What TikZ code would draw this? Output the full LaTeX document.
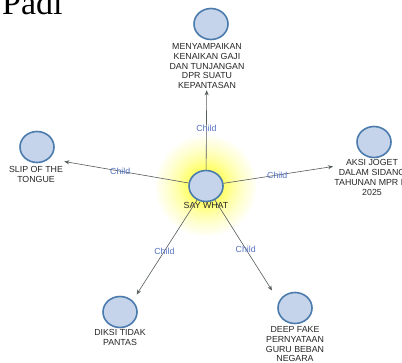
\documentclass[tikz,border=0pt]{standalone}
\usepackage{fontspec}
\setmainfont{Liberation Serif}
\newfontfamily\labfont{Liberation Sans}
\usetikzlibrary{shapes.geometric,fit,arrows.meta}
\definecolor{nodefill}{RGB}{197,212,234}
\definecolor{nodeedge}{RGB}{74,123,172}
\definecolor{childblue}{RGB}{85,115,195}
\definecolor{edgegray}{RGB}{85,92,92}
\definecolor{glowcol}{RGB}{255,255,40}
\begin{document}
\begin{tikzpicture}[x=1pt,y=-1pt,
  bubble/.style={ellipse, draw=nodeedge, fill=nodefill, line width=1.6pt, minimum width=34pt, minimum height=31pt, inner sep=0pt},
  caption/.style={font=\labfont\fontsize{8.8}{9.9}\selectfont, align=center, inner sep=0pt, text=black!85, anchor=north},
  grp/.style={inner sep=1pt},
  link/.style={draw=edgegray, line width=0.6pt, -{Stealth[length=5pt,width=4pt]}},
  childlbl/.style={font=\labfont\fontsize{8.8}{9}\selectfont, text=childblue, inner sep=0pt},
  glowring/.style={fill=glowcol, opacity=0.05, draw=none}]
\useasboundingbox (0,0) rectangle (402,362);
\fill[white] (0,0) rectangle (402,362);
\clip (0,0) rectangle (402,362);
% cropped title
\node[font=\fontsize{34}{34}\selectfont, anchor=base west, inner sep=0pt] (title) at (2,14) {Padi};
% glow
\foreach \r in {50,47,44,41,38,36,34,32,30,28,27,26,25,24,23,22,21,20,19,18}
  \fill[glowring] (206,186) circle (\r);
% center
\node[bubble] (c) at (206,186) {};
\node[caption] (ct) at (206,202) {SAY WHAT};
% top
\node[bubble] (tc) at (211,24) {};
\node[caption] (tt) at (207,43) {MENYAMPAIKAN\\KENAIKAN GAJI\\DAN TUNJANGAN\\DPR SUATU\\KEPANTASAN};
\node[grp, fit=(tc)(tt)] (top) {};
% left
\node[bubble] (lc) at (37,147) {};
\node[caption] (lt) at (36,166) {SLIP OF THE\\TONGUE};
\node[grp, fit=(lc)(lt)] (left) {};
% right
\node[bubble] (rc) at (374,142) {};
\node[caption] (rt) at (372,159) {AKSI JOGET\\DALAM SIDANG\\TAHUNAN MPR RI\\2025};
\node[grp, fit=(rc)(rt)] (right) {};
% bottom left
\node[bubble] (blc) at (120,312) {};
\node[caption] (blt) at (120,329) {DIKSI TIDAK\\PANTAS};
\node[grp, fit=(blc)(blt)] (bl) {};
% bottom right
\node[bubble] (brc) at (295,308) {};
\node[caption] (brt) at (295,326) {DEEP FAKE\\PERNYATAAN\\GURU BEBAN\\NEGARA};
\node[grp, fit=(brc)(brt)] (br) {};
% connectors
\draw[link] (c) -- node[childlbl, pos=0.52] {Child} (top);
\draw[link] (c) -- node[childlbl, pos=0.55] {Child} (left);
\draw[link] (c) -- node[childlbl, pos=0.49] {Child} (right);
\draw[link] (c) -- node[childlbl, pos=0.54] {Child} (bl);
\draw[link] (c) -- node[childlbl, pos=0.54] {Child} (br);
\end{tikzpicture}
\end{document}
